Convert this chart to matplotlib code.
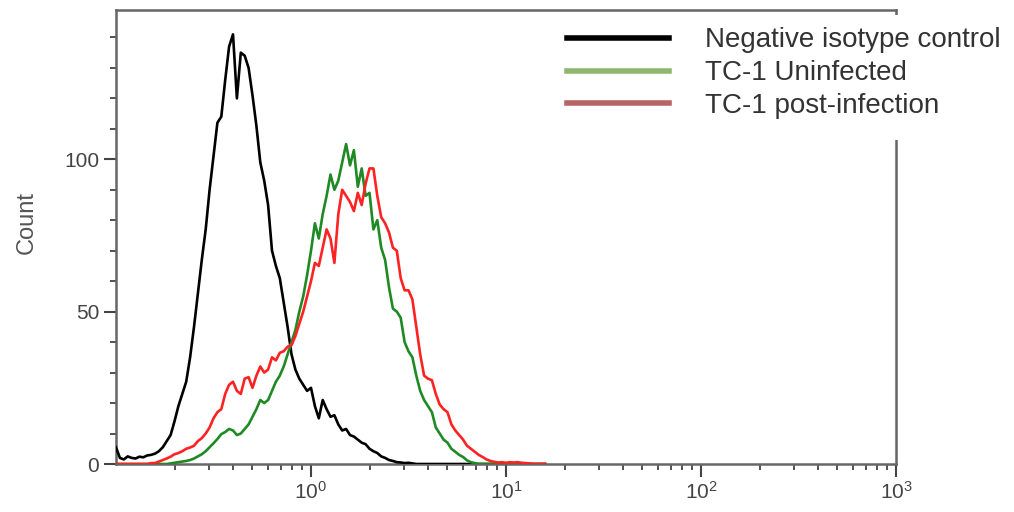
import numpy as np
import matplotlib
matplotlib.use("Agg")
import matplotlib.pyplot as plt
from matplotlib.lines import Line2D
from matplotlib.patches import Rectangle

plt.rcParams['font.family'] = ['Liberation Sans', 'DejaVu Sans']
plt.rcParams['mathtext.fontset'] = 'custom'
plt.rcParams['mathtext.rm'] = 'Liberation Sans'

# channel positions: log10 of fluorescence intensity, -1.00 .. 1.20
log_channels = np.round(np.arange(-1.0, 1.2001, 0.02), 2)

negative_isotype = [
    5.5, 2.0, 1.5, 2.5, 2.0, 1.8, 2.4, 2.2, 2.8, 3.0,
    3.4, 4.2, 5.5, 7.5, 9.5, 14, 19, 23, 27, 35,
    45, 56, 67, 77, 90, 101, 112, 114, 126, 137,
    141, 120, 135, 134, 130, 121, 111, 99, 93, 85,
    70, 65, 61, 53, 45, 36, 31, 28, 26, 24,
    25, 19, 15, 21, 18, 15.5, 16, 13, 11, 11.5,
    9.5, 9, 8, 7, 6.5, 5, 4.2, 3.6, 2.5, 2,
    1.3, 1, 0.6, 0.5, 0.3, 0.4, 0.2, 0, 0, 0,
    0, 0, 0, 0, 0, 0, 0, 0, 0, 0,
    0, 0, 0, 0, 0, 0, 0, 0, 0, 0,
    0, 0, 0, 0, 0, 0, 0, 0, 0, 0,
    0,
]

tc1_uninfected = [
    0, 0, 0, 0, 0, 0, 0, 0, 0, 0,
    0, 0, 0, 0, 0.2, 0.4, 0.6, 0.8, 1.0, 1.3,
    1.8, 2.5, 3.2, 4.2, 5.5, 6.8, 8.2, 9.8, 10.5, 11.5,
    11, 9.5, 10, 11.5, 13, 15.5, 18, 21, 20, 21,
    24, 27, 29, 32, 36, 40, 44, 50, 55, 62,
    70, 79, 74, 82, 88, 95, 90, 93, 99, 105,
    98, 103, 91, 97, 88, 89, 77, 80, 71, 67,
    58, 51, 50, 48, 40, 37, 35, 29, 24, 21,
    19, 17, 12, 10, 8, 7, 5, 4, 3, 2.3,
    1.2, 0.6, 0.3, 0, 0, 0, 0, 0, 0, 0,
    0, 0, 0, 0, 0, 0, 0, 0, 0, 0,
    0,
]

tc1_post_infection = [
    0, 0, 0, 0, 0, 0, 0, 0, 0, 0.3,
    0.3, 0.8, 1.3, 1.8, 2.4, 3.2, 3.6, 4.2, 5, 5.4,
    6, 7.5, 8.5, 10, 12, 15, 17, 18, 23, 26,
    27, 24, 23, 28, 28.5, 25, 29, 32, 30, 31,
    35, 34, 36.5, 37, 38.5, 39, 42, 46, 50, 55,
    60, 66, 65, 71, 77, 74, 66, 82, 90, 88,
    86, 83, 89, 85, 92, 97, 97, 88, 81, 79,
    76, 71, 70, 61, 57, 57, 54, 45, 36, 29,
    28, 27.5, 23, 19.5, 18, 17, 13, 11, 9.5, 8,
    6, 5, 4, 3, 2.3, 1.5, 1, 0.7, 0.5, 0.6,
    0.4, 0.6, 0.5, 0.6, 0.4, 0.3, 0.2, 0, 0, 0,
    0,
]

series_labels = ["Negative isotype control", "TC-1 Uninfected", "TC-1 post-infection"]
x_tick_values = [1, 10, 100, 1000]
x_tick_labels = [r"$\mathregular{10^{0}}$", r"$\mathregular{10^{1}}$",
                 r"$\mathregular{10^{2}}$", r"$\mathregular{10^{3}}$"]
y_tick_values = [0, 50, 100]

W, H = 1014, 512
fig = plt.figure(figsize=(W / 100, H / 100), dpi=100)
ax = fig.add_axes([116 / W, 1 - 464 / H, (896 - 116) / W, (464 - 10) / H])

x = 10.0 ** log_channels
ax.plot(x, negative_isotype, color="black", lw=1.9, zorder=3)
ax.plot(x, tc1_uninfected, color="#1f8a24", lw=1.9, zorder=3)
ax.plot(x, tc1_post_infection, color="#ff2222", lw=1.9, zorder=4)

ax.set_xscale("log")
ax.set_xlim(0.1, 1000)
ax.set_ylim(0, 149)

ax.set_xticks(x_tick_values)
ax.set_xticklabels(x_tick_labels)
ax.xaxis.set_minor_locator(matplotlib.ticker.LogLocator(base=10, subs=np.arange(2, 10)))
ax.xaxis.set_minor_formatter(matplotlib.ticker.NullFormatter())
ax.set_yticks(y_tick_values)
ax.yaxis.set_minor_locator(matplotlib.ticker.MultipleLocator(10))

spine_col = "#666666"
for s in ax.spines.values():
    s.set_color(spine_col)
    s.set_linewidth(1.8)

ax.tick_params(axis="both", which="major", length=9, width=1.5, color="#444444",
               labelsize=15, labelcolor="#444444", pad=3)
ax.tick_params(axis="both", which="minor", length=4, width=1.3, color="#444444")

ax.set_ylabel("Count", fontsize=17, color="#555555")
ax.yaxis.set_label_coords((38 - 116) / 780, (464 - 222) / 454)

# white area behind the legend (covers the upper part of the right spine)
fig.patches.append(Rectangle((545 / W, 1 - 140 / H), (W - 545) / W, (140 - 15) / H,
                             transform=fig.transFigure, facecolor="white",
                             edgecolor="none", zorder=1))

handles = [
    Line2D([], [], color="black", lw=4),
    Line2D([], [], color="#8fb86f", lw=4),
    Line2D([], [], color="#b86464", lw=4),
]
leg = fig.legend(handles, series_labels, loc="upper left",
                 bbox_to_anchor=(559 / W, 1 - 19 / H),
                 fontsize=20, frameon=False,
                 handlelength=3.65, handletextpad=1.3, labelspacing=0.25,
                 borderpad=0.3, borderaxespad=0)
for t in leg.get_texts():
    t.set_color("#333333")

fig.savefig("out.png", dpi=100)
